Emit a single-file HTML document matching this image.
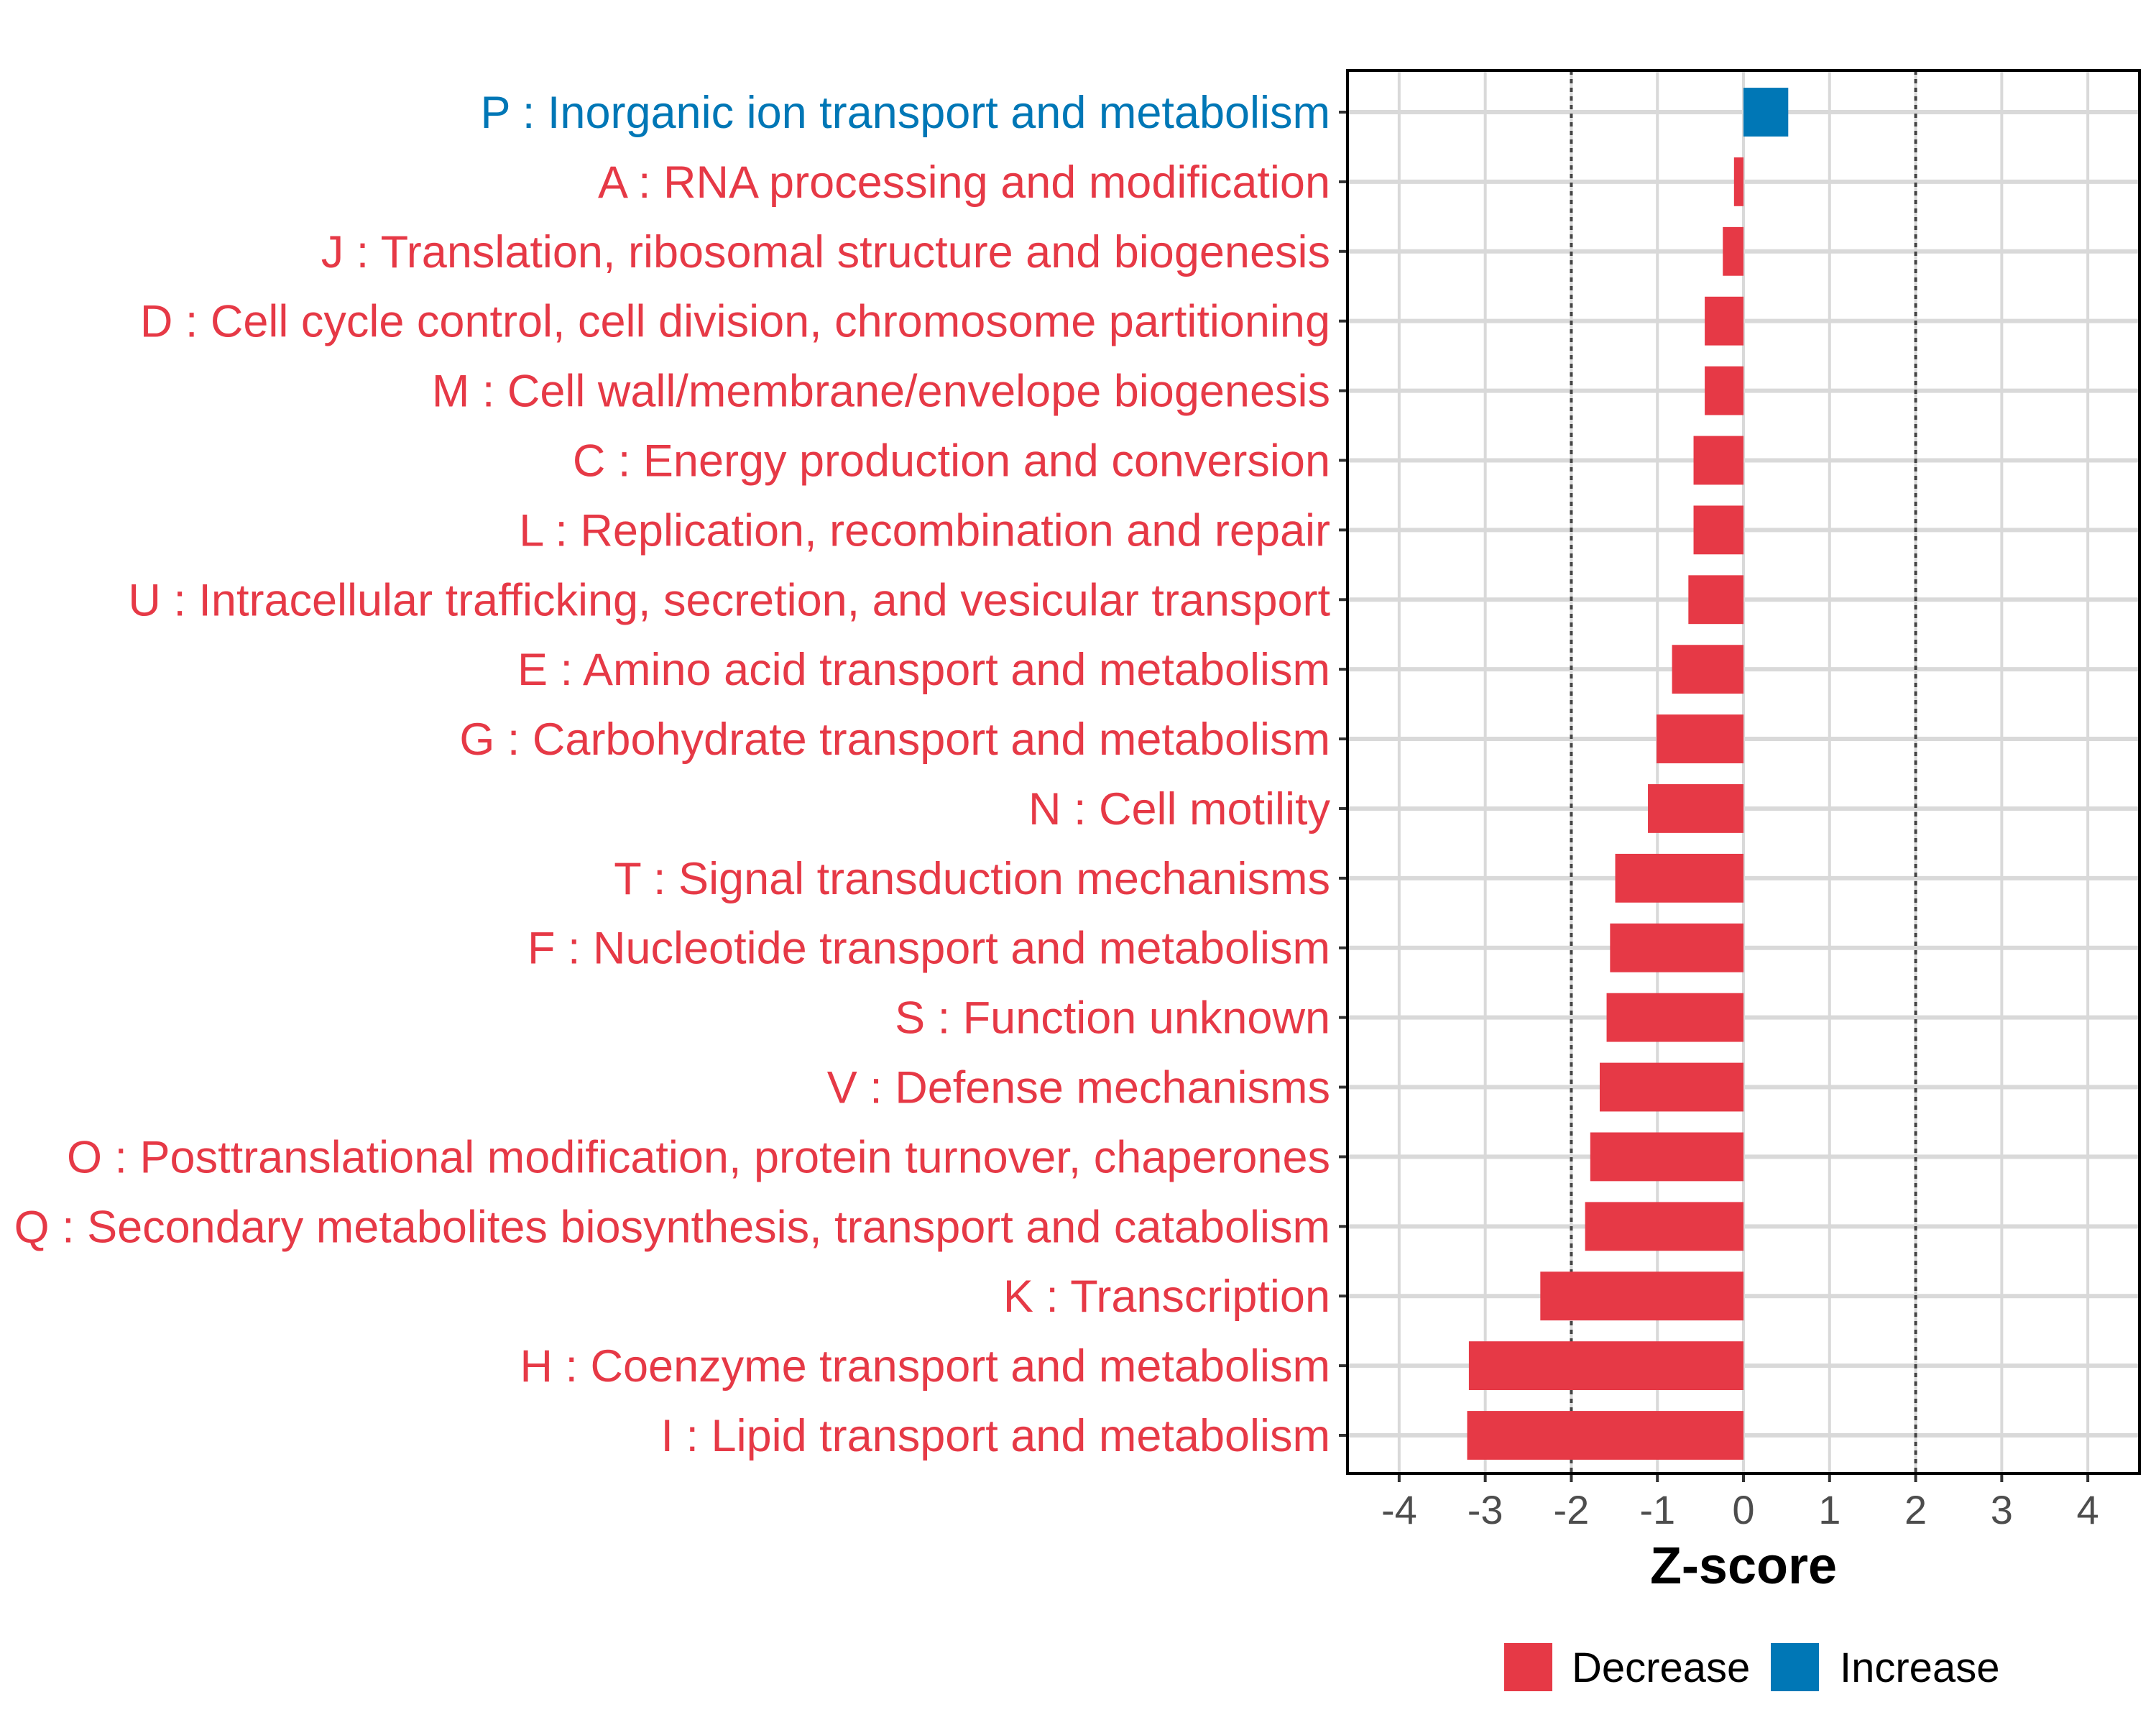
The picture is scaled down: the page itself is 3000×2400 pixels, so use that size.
<!DOCTYPE html>
<html><head><meta charset="utf-8"><style>
html,body{margin:0;padding:0;background:#fff}
svg{display:block}
text{font-family:"Liberation Sans",Arial,sans-serif}
</style></head><body>
<svg id="chart" width="3000" height="2400" viewBox="0 0 3000 2400" xmlns="http://www.w3.org/2000/svg">
<rect width="3000" height="2400" fill="#fff"/>
<g id="grid"></g>
<g id="bars"></g>
<g id="ylabels"></g>
<g id="xaxis"></g>
<text x="2426" y="2203" text-anchor="middle" font-size="72" font-weight="bold" fill="#000">Z-score</text>
<g>
<rect x="2093" y="2286" width="67" height="67" fill="#E63946"/>
<text x="2187" y="2340" font-size="58" fill="#000">Decrease</text>
<rect x="2464" y="2286" width="67" height="67" fill="#0077B6"/>
<text x="2560" y="2340" font-size="58" fill="#000">Increase</text>
</g>
</svg>
<script>
const categories = ["P : Inorganic ion transport and metabolism","A : RNA processing and modification","J : Translation, ribosomal structure and biogenesis","D : Cell cycle control, cell division, chromosome partitioning","M : Cell wall/membrane/envelope biogenesis","C : Energy production and conversion","L : Replication, recombination and repair","U : Intracellular trafficking, secretion, and vesicular transport","E : Amino acid transport and metabolism","G : Carbohydrate transport and metabolism","N : Cell motility","T : Signal transduction mechanisms","F : Nucleotide transport and metabolism","S : Function unknown","V : Defense mechanisms","O : Posttranslational modification, protein turnover, chaperones","Q : Secondary metabolites biosynthesis, transport and catabolism","K : Transcription","H : Coenzyme transport and metabolism","I : Lipid transport and metabolism"];
const zscores = [0.52,-0.11,-0.24,-0.45,-0.45,-0.58,-0.58,-0.64,-0.83,-1.01,-1.11,-1.49,-1.55,-1.59,-1.67,-1.78,-1.84,-2.36,-3.19,-3.21];
const xTicks = [-4,-3,-2,-1,0,1,2,3,4];
const xTickLabels = ["-4","-3","-2","-1","0","1","2","3","4"];
const thresholds = [-2,2];

const NS="http://www.w3.org/2000/svg";
const L=1875,R=2977,T=98,B=2050;
const xmin=-4.6,xmax=4.6;
const x=v=>L+(v-xmin)/(xmax-xmin)*(R-L);
const yFirst=156,yLast=1997;
const step=(yLast-yFirst)/(categories.length-1);
const y=i=>yFirst+step*i;
function mk(tag,attrs,parent){const e=document.createElementNS(NS,tag);for(const k in attrs)e.setAttribute(k,attrs[k]);parent.appendChild(e);return e;}
const grid=document.getElementById('grid'),bars=document.getElementById('bars'),yl=document.getElementById('ylabels'),xa=document.getElementById('xaxis');
xTicks.forEach((t,i)=>{
  const g=mk('line',{x1:x(t),x2:x(t),y1:T,y2:B,stroke:'#d9d9d9','stroke-width':4},grid);
  
  
  const tk=mk('line',{x1:x(t),x2:x(t),y1:B,y2:B+12,stroke:'#333','stroke-width':4},xa);
  
  
  const tl=mk('text',{x:x(t),y:B+70,'text-anchor':'middle','font-size':56,fill:'#4d4d4d'},xa);
  tl.textContent=xTickLabels[i];
  
  
});
categories.forEach((c,i)=>{
  const g=mk('line',{x1:L,x2:R,y1:y(i),y2:y(i),stroke:'#d9d9d9','stroke-width':6},grid);
  
  
});
thresholds.forEach(t=>{
  const d=mk('line',{x1:x(t),x2:x(t),y1:T,y2:B,stroke:'#444','stroke-width':4,'stroke-dasharray':'6,6'},grid);
  
  
});
categories.forEach((c,i)=>{
  const v=zscores[i];const col=v>=0?'#0077B6':'#E63946';
  const h=step*0.7;
  const b=mk('rect',{x:Math.min(x(0),x(v)),y:y(i)-h/2,width:Math.abs(x(v)-x(0)),height:h,fill:col},bars);
  
  
  const tk=mk('line',{x1:L-12,x2:L,y1:y(i),y2:y(i),stroke:'#333','stroke-width':4},yl);
  
  
  const t=mk('text',{x:L-24,y:y(i)+22,'text-anchor':'end','font-size':63,fill:col},yl);
  t.textContent=c;
  
  
});
const fr=mk('rect',{x:L,y:T,width:R-L,height:B-T,fill:'none',stroke:'#000','stroke-width':4},document.getElementById('chart'));


</script>
</body></html>
